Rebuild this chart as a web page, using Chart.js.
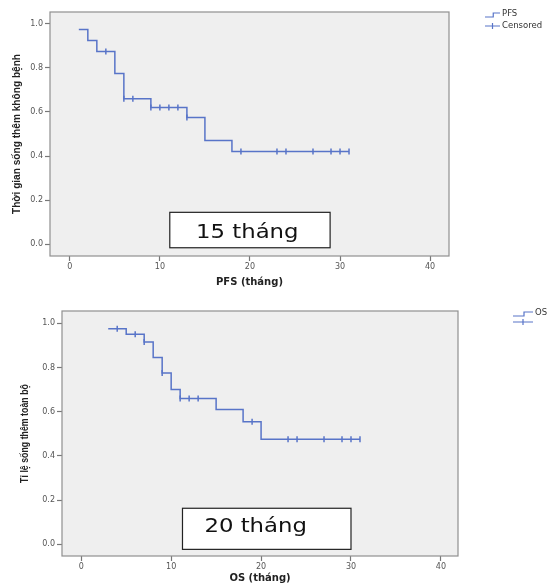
<!DOCTYPE html>
<html>
<head>
<meta charset="utf-8">
<script src="https://cdn.jsdelivr.net/npm/chart.js@4.4.1/dist/chart.umd.min.js"></script>
<style>
  body { margin: 0; background: #fff; }
  .wrap { position: absolute; left: 0; width: 555px; }
</style>
</head>
<body>
<div class="wrap" style="top:0;height:290px"><canvas id="pfsChart" width="555" height="290"></canvas></div>
<div class="wrap" style="top:290px;height:293px"><canvas id="osChart" width="555" height="293"></canvas></div>
<script>
// tick values shared by both plots
const yTicks = [0, 0.2, 0.4, 0.6, 0.8, 1.0];
const xTicks = [0, 10, 20, 30, 40];

// PFS curve (time in months, survival)
const pfsTimes = [1, 2, 3, 5, 6, 9, 13, 15, 18, 31];
const pfsSurv = [0.975, 0.925, 0.875, 0.775, 0.66, 0.62, 0.575, 0.47, 0.42, 0.42];
const pfsCensTimes = [4, 6, 7, 9, 10, 11, 12, 13, 19, 23, 24, 27, 29, 30, 31];
const pfsCensSurv = [0.875, 0.66, 0.66, 0.62, 0.62, 0.62, 0.62, 0.575, 0.42, 0.42, 0.42, 0.42, 0.42, 0.42, 0.42];

// OS curve
const osTimes = [3, 5, 7, 8, 9, 10, 11, 15, 18, 20, 31];
const osSurv = [0.975, 0.95, 0.915, 0.845, 0.775, 0.70, 0.66, 0.61, 0.555, 0.475, 0.475];
const osCensTimes = [4, 6, 7, 9, 11, 12, 13, 19, 23, 24, 27, 29, 30, 31];
const osCensSurv = [0.975, 0.95, 0.915, 0.775, 0.66, 0.66, 0.66, 0.555, 0.475, 0.475, 0.475, 0.475, 0.475, 0.475];

const lineColor = 'rgb(88,116,200)';
const tickFont = { family: 'DejaVu Sans', size: 8 };

// background, frame, y title, median box and the little SPSS style legend
const kmDecor = {
  id: 'kmDecor',
  beforeDraw(chart) {
    const { ctx, chartArea: a } = chart;
    ctx.save();
    ctx.fillStyle = '#efefef';
    ctx.fillRect(a.left, a.top, a.right - a.left, a.bottom - a.top);
    ctx.restore();
  },
  beforeDatasetsDraw(chart) {
    const { ctx, chartArea: a } = chart;
    ctx.save();
    ctx.strokeStyle = '#8f8f8f';
    ctx.lineWidth = 1.2;
    ctx.strokeRect(a.left, a.top, a.right - a.left, a.bottom - a.top);
    ctx.restore();
  },
  afterDraw(chart) {
    const o = chart.options.plugins.kmDecor;
    const { ctx, chartArea: a } = chart;
    const xs = chart.scales.x, ys = chart.scales.y;

    // y axis title, condensed like the original
    ctx.save();
    ctx.translate(o.yTitleX, (a.top + a.bottom) / 2);
    ctx.rotate(-Math.PI / 2);
    ctx.scale(o.yTitleSqueeze, 1);
    ctx.font = 'bold 11px "Liberation Sans"';
    ctx.fillStyle = '#222';
    ctx.textAlign = 'center';
    ctx.textBaseline = 'middle';
    ctx.fillText(o.yTitle, 0, 0);
    ctx.restore();

    // median box
    ctx.save();
    const bx1 = xs.getPixelForValue(o.box[0]), bx2 = xs.getPixelForValue(o.box[1]);
    const by1 = ys.getPixelForValue(o.box[2]), by2 = ys.getPixelForValue(o.box[3]);
    ctx.fillStyle = '#fff';
    ctx.fillRect(bx1, by1, bx2 - bx1, by2 - by1);
    ctx.strokeStyle = '#222';
    ctx.lineWidth = 1.2;
    ctx.strokeRect(bx1, by1, bx2 - bx1, by2 - by1);
    ctx.translate(xs.getPixelForValue(o.labelAt[0]), ys.getPixelForValue(o.labelAt[1]));
    ctx.scale(1.2, 1);
    ctx.fillStyle = '#111';
    ctx.font = '19px "DejaVu Sans"';
    ctx.textAlign = 'center';
    ctx.textBaseline = 'alphabetic';
    ctx.fillText(o.label, 0, 0);
    ctx.restore();

    // legend
    ctx.save();
    ctx.strokeStyle = lineColor;
    ctx.lineWidth = 1.2;
    const lx = o.legend.x, ly = o.legend.y, w = o.legend.w;
    ctx.beginPath();
    ctx.moveTo(lx, ly + 2);
    ctx.lineTo(lx + w * 0.55, ly + 2);
    ctx.lineTo(lx + w * 0.55, ly - 2);
    ctx.lineTo(lx + w, ly - 2);
    ctx.stroke();
    const cy = ly + o.legend.gap;
    ctx.beginPath();
    ctx.moveTo(lx, cy);
    ctx.lineTo(lx + w, cy);
    ctx.moveTo(lx + w / 2, cy - 3);
    ctx.lineTo(lx + w / 2, cy + 3);
    ctx.stroke();
    ctx.fillStyle = '#333';
    ctx.font = '8.5px "DejaVu Sans"';
    ctx.textBaseline = 'middle';
    ctx.fillText(o.legend.items[0], lx + w + 2, ly - 1);
    if (o.legend.items[1]) ctx.fillText(o.legend.items[1], lx + w + 2, cy);
    ctx.restore();
  }
};

function kmChart(id, opts) {
  const line = opts.times.map((t, i) => ({ x: t, y: opts.surv[i] }));
  const cens = opts.censTimes.map((t, i) => ({ x: t, y: opts.censSurv[i] }));
  return new Chart(document.getElementById(id), {
    type: 'scatter',
    data: {
      datasets: [
        {
          label: opts.name,
          data: line,
          showLine: true,
          stepped: 'before',
          borderColor: lineColor,
          borderWidth: 1.5,
          pointRadius: 0,
          fill: false
        },
        {
          label: 'Censored',
          data: cens,
          showLine: false,
          pointStyle: 'line',
          rotation: 90,
          pointRadius: 3,
          borderColor: lineColor,
          borderWidth: 1.5
        }
      ]
    },
    options: {
      responsive: false,
      animation: false,
      layout: { padding: { top: opts.padTop, right: opts.padRight, left: 0, bottom: 0 } },
      plugins: {
        legend: { display: false },
        tooltip: { enabled: false },
        kmDecor: opts.decor
      },
      scales: {
        x: {
          type: 'linear',
          min: opts.xMin,
          max: opts.xMax,
          afterBuildTicks: s => { s.ticks = xTicks.map(v => ({ value: v })); },
          afterFit: s => { s.height = opts.xAxisH; },
          grid: { display: true, drawOnChartArea: false, tickLength: 5, color: '#777', tickWidth: 1.2 },
          border: { display: false },
          ticks: { font: tickFont, color: '#555', padding: 1, maxRotation: 0 },
          title: {
            display: true,
            text: opts.xTitle,
            color: '#222',
            font: { family: 'DejaVu Sans', size: 10, weight: 'bold', lineHeight: 1 },
            padding: { top: 0, bottom: opts.xTitlePad }
          }
        },
        y: {
          min: opts.yMin,
          max: opts.yMax,
          afterBuildTicks: s => { s.ticks = yTicks.map(v => ({ value: v })); },
          afterFit: s => { s.width = opts.yAxisW; },
          grid: { display: true, drawOnChartArea: false, tickLength: 5, color: '#777', tickWidth: 1.2 },
          border: { display: false },
          ticks: { font: tickFont, color: '#555', padding: 2, callback: v => Number(v).toFixed(1) }
        }
      }
    },
    plugins: [kmDecor]
  });
}

kmChart('pfsChart', {
  name: 'PFS',
  times: pfsTimes, surv: pfsSurv,
  censTimes: pfsCensTimes, censSurv: pfsCensSurv,
  padTop: 12, padRight: 106,
  yAxisW: 50, xAxisH: 34,
  xMin: -2.2, xMax: 42.1, yMin: -0.0545, yMax: 1.0545,
  xTitle: 'PFS (tháng)', xTitlePad: 3,
  decor: {
    yTitle: 'Thời gian sống thêm không bệnh', yTitleX: 17, yTitleSqueeze: 0.92,
    box: [11.1, 28.9, 0.144, -0.017],
    label: '15 tháng', labelAt: [19.7, 0.029],
    legend: { x: 485, y: 15, w: 15, gap: 11, items: ['PFS', 'Censored'] }
  }
});

kmChart('osChart', {
  name: 'OS',
  times: osTimes, surv: osSurv,
  censTimes: osCensTimes, censSurv: osCensSurv,
  padTop: 21, padRight: 97,
  yAxisW: 62, xAxisH: 27,
  xMin: -2.14, xMax: 41.9, yMin: -0.053, yMax: 1.0556,
  xTitle: 'OS (tháng)', xTitlePad: 0,
  decor: {
    yTitle: 'Tỉ lệ sống thêm toàn bộ', yTitleX: 25, yTitleSqueeze: 0.8,
    box: [11.26, 30, 0.163, -0.023],
    label: '20 tháng', labelAt: [19.4, 0.054],
    legend: { x: 513, y: 24, w: 20, gap: 8, items: ['OS'] }
  }
});
</script>
</body>
</html>
